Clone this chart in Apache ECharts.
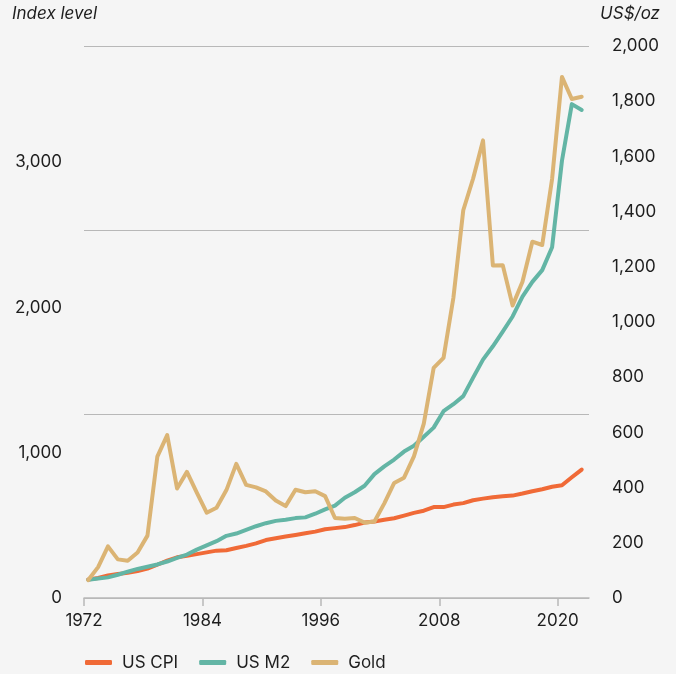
<!DOCTYPE html>
<html>
<head>
<meta charset="utf-8">
<script src="https://cdn.jsdelivr.net/npm/echarts@6/dist/echarts.min.js"></script>
<style>
  html, body { margin: 0; padding: 0; background: #f5f5f5; }
  #chart { width: 676px; height: 674px; }
</style>
</head>
<body>
<div id="chart"></div>
<script>
// year-end values, 1972-2022
var years = [1972, 1973, 1974, 1975, 1976, 1977, 1978, 1979, 1980, 1981,
             1982, 1983, 1984, 1985, 1986, 1987, 1988, 1989, 1990, 1991,
             1992, 1993, 1994, 1995, 1996, 1997, 1998, 1999, 2000, 2001,
             2002, 2003, 2004, 2005, 2006, 2007, 2008, 2009, 2010, 2011,
             2012, 2013, 2014, 2015, 2016, 2017, 2018, 2019, 2020, 2021, 2022];

// index level (left axis)
var usCpi = [127, 138, 155, 165, 173, 185, 202, 229, 257, 280,
             291, 302, 314, 326, 329, 344, 359, 376, 399, 411,
             423, 434, 446, 457, 473, 481, 488, 502, 519, 527,
             539, 549, 567, 586, 601, 626, 626, 643, 653, 673,
             684, 694, 700, 705, 719, 735, 749, 766, 776, 831, 884];

var usM2 = [126, 134, 142, 160, 181, 200, 215, 231, 251, 276,
            299, 333, 362, 391, 428, 444, 469, 494, 515, 531,
            539, 550, 555, 580, 610, 636, 690, 728, 773, 853,
            906, 953, 1008, 1048, 1110, 1173, 1286, 1334, 1390, 1517,
            1641, 1733, 1834, 1938, 2074, 2176, 2257, 2415, 3010, 3400, 3360];

// US$/oz (right axis)
var gold = [65, 112, 187, 140, 135, 165, 226, 512, 590, 397,
            457, 382, 309, 327, 391, 486, 410, 401, 386, 353,
            333, 392, 383, 387, 369, 290, 287, 290, 273, 277,
            343, 417, 436, 513, 632, 834, 870, 1088, 1405, 1520,
            1658, 1205, 1206, 1060, 1146, 1291, 1279, 1518, 1888, 1808, 1816];

var xTickYears = [1972, 1984, 1996, 2008, 2020];
var leftTicks = [0, 1000, 2000, 3000];
var rightTicks = [0, 200, 400, 600, 800, 1000, 1200, 1400, 1600, 1800, 2000];

// the year ticks sit a little left of each year's point
var yearOffset = 0.43;
var tickPos = xTickYears.map(function (y) { return y - yearOffset; });
var xMin = tickPos[0];
var xMax = xMin + 51.17;

function pairs(vals) {
    return years.map(function (y, i) { return [y, vals[i]]; });
}
function fmt(v) {
    return String(v).replace(/\B(?=(\d{3})+(?!\d))/g, ',');
}

var font = 'Inter';
var textColor = '#1e1e1e';
var gridColor = '#b8b8b8';

var chart = echarts.init(document.getElementById('chart'));

var option = {
    backgroundColor: '#f5f5f5',
    color: ['#f06a37', '#63b5a5', '#dbb474'],
    animation: false,
    grid: { left: 84, right: 87, top: 46, bottom: 76 },
    graphic: [
        {
            type: 'text', left: 12, top: 5,
            style: { text: 'Index level', fontFamily: font, fontSize: 17, fontStyle: 'italic', fill: textColor }
        },
        {
            type: 'text', right: 16, top: 5,
            style: { text: 'US$/oz', fontFamily: font, fontSize: 17, fontStyle: 'italic', fill: textColor }
        }
    ],
    legend: {
        left: 85,
        top: 654,
        padding: 0,
        icon: 'roundRect',
        itemWidth: 27,
        itemHeight: 5,
        itemGap: 21,
        textStyle: { fontFamily: font, fontSize: 17, color: textColor, padding: [0, 0, 0, 5] },
        data: ['US CPI', 'US M2', 'Gold']
    },
    xAxis: {
        type: 'value',
        min: xMin,
        max: xMax,
        axisLine: { lineStyle: { color: gridColor, width: 1.5 } },
        axisTick: { customValues: tickPos, length: 8, lineStyle: { color: gridColor, width: 1.5 } },
        axisLabel: {
            customValues: tickPos,
            formatter: function (v) { return String(Math.round(v)); },
            margin: 14,
            color: textColor,
            fontFamily: font,
            fontSize: 17
        },
        splitLine: { show: false }
    },
    yAxis: [
        {
            type: 'value',
            min: 0,
            max: 3800,
            axisLine: { show: false },
            axisTick: { show: false },
            splitLine: { show: false },
            axisLabel: {
                customValues: leftTicks,
                formatter: fmt,
                margin: 22,
                color: textColor,
                fontFamily: font,
                fontSize: 17
            }
        },
        {
            type: 'value',
            position: 'right',
            min: 0,
            max: 2000,
            axisLine: { show: false },
            axisTick: { show: false },
            splitLine: { show: false },
            axisLabel: {
                customValues: rightTicks,
                formatter: fmt,
                margin: 23,
                color: textColor,
                fontFamily: font,
                fontSize: 17
            }
        },
        {
            // only for the three horizontal gridlines
            type: 'value',
            min: 0,
            max: 3,
            interval: 1,
            show: true,
            axisLine: { show: false },
            axisTick: { show: false },
            axisLabel: { show: false },
            splitLine: { lineStyle: { color: gridColor, width: 1.2 } }
        }
    ],
    series: [
        {
            name: 'US CPI', type: 'line', yAxisIndex: 0, data: pairs(usCpi),
            symbol: 'none', lineStyle: { width: 4, cap: 'round', join: 'round' }
        },
        {
            name: 'US M2', type: 'line', yAxisIndex: 0, data: pairs(usM2),
            symbol: 'none', lineStyle: { width: 4, cap: 'round', join: 'round' }
        },
        {
            name: 'Gold', type: 'line', yAxisIndex: 1, data: pairs(gold),
            symbol: 'none', lineStyle: { width: 4, cap: 'round', join: 'round' }
        }
    ]
};

chart.setOption(option);
</script>
</body>
</html>
